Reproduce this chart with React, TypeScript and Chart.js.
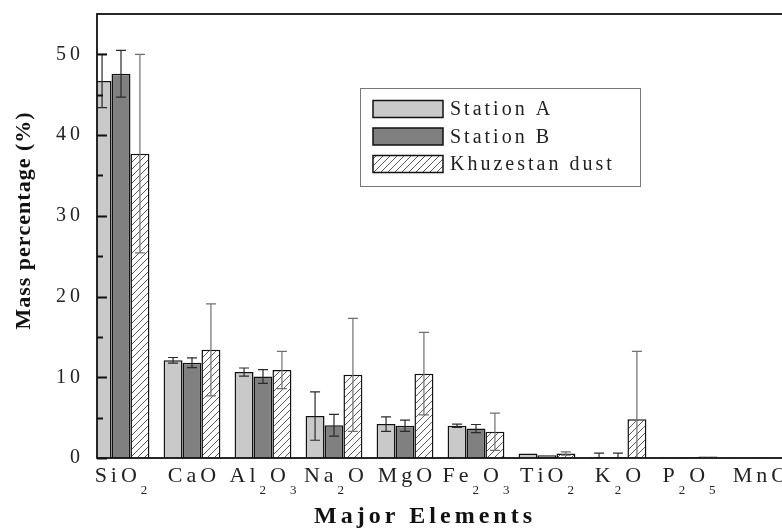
import React, { useEffect, useRef } from "react";
import { Chart, registerables } from "chart.js";

Chart.register(...registerables);

// ---------- data ----------
const categories = ["SiO2", "CaO", "Al2O3", "Na2O", "MgO", "Fe2O3", "TiO2", "K2O", "P2O5", "MnO"];
const seriesNames = ["Station A", "Station B", "Khuzestan dust"];

const stationA = [46.7, 12.1, 10.65, 5.2, 4.2, 4.0, 0.55, 0.1, 0.1, 0.05];
const stationAErr = [3.3, 0.35, 0.5, 3.0, 0.9, 0.2, 0, 0.5, 0, 0];
const stationB = [47.6, 11.8, 10.1, 4.05, 4.0, 3.65, 0.35, 0.1, 0.1, 0.05];
const stationBErr = [2.9, 0.6, 0.85, 1.35, 0.7, 0.5, 0, 0.5, 0, 0];
const dust = [37.7, 13.4, 10.9, 10.3, 10.45, 3.25, 0.55, 4.8, 0.2, 0.05];
const dustErr = [12.3, 5.7, 2.3, 7.0, 5.1, 2.3, 0.2, 8.4, 0, 0];

const yMajorTicks = [0, 10, 20, 30, 40, 50];
const yMinorTicks = [5, 15, 25, 35, 45];
const yTitle = "Mass percentage (%)";
const xTitle = "Major Elements";

const SERIF = '"Liberation Serif", "Times New Roman", serif';

function makeHatch(): CanvasPattern {
  const c = document.createElement("canvas");
  const s = 7;
  c.width = s;
  c.height = s;
  const g = c.getContext("2d")!;
  g.fillStyle = "#ffffff";
  g.fillRect(0, 0, s, s);
  g.strokeStyle = "#5a5a5a";
  g.lineWidth = 1;
  g.beginPath();
  g.moveTo(0, s);
  g.lineTo(s, 0);
  g.moveTo(-1, 1);
  g.lineTo(1, -1);
  g.moveTo(s - 1, s + 1);
  g.lineTo(s + 1, s - 1);
  g.stroke();
  return g.createPattern(c, "repeat")!;
}

function spacedWidth(ctx: CanvasRenderingContext2D, text: string, sp: number) {
  let w = 0;
  for (const ch of text) w += ctx.measureText(ch).width;
  return w + sp * (text.length - 1);
}

function drawSpaced(
  ctx: CanvasRenderingContext2D,
  text: string,
  x: number,
  y: number,
  sp: number,
  align: "left" | "center" | "right"
) {
  const w = spacedWidth(ctx, text, sp);
  let cx = align === "center" ? x - w / 2 : align === "right" ? x - w : x;
  ctx.textAlign = "left";
  for (const ch of text) {
    ctx.fillText(ch, cx, y);
    cx += ctx.measureText(ch).width + sp;
  }
}

export default function App() {
  const ref = useRef<HTMLCanvasElement | null>(null);

  useEffect(() => {
    const canvas = ref.current;
    if (!canvas) return;
    const hatch = makeHatch();
    const fills: (string | CanvasPattern)[] = ["#c9c9c9", "#808080", hatch];
    const errs = [stationAErr, stationBErr, dustErr];
    const errColors = ["#2a2a2a", "#2a2a2a", "#707070"];
    const values = [stationA, stationB, dust];

    const decor = {
      id: "decor",
      afterDatasetsDraw(chart: any) {
        const ctx: CanvasRenderingContext2D = chart.ctx;
        const area = chart.chartArea;
        const ys = chart.scales.y;
        ctx.save();
        ctx.beginPath();
        ctx.rect(area.left, area.top, area.right - area.left, area.bottom - area.top);
        ctx.clip();
        values.forEach((vals, di) => {
          const meta = chart.getDatasetMeta(di);
          ctx.strokeStyle = errColors[di];
          ctx.lineWidth = 1.2;
          meta.data.forEach((el: any, j: number) => {
            const e = errs[di][j];
            if (!e) return;
            const v = vals[j];
            const x = el.x;
            const yt = ys.getPixelForValue(v + e);
            const yb = ys.getPixelForValue(Math.max(v - e, 0));
            const cap = 5;
            ctx.beginPath();
            ctx.moveTo(x, yt);
            ctx.lineTo(x, yb);
            ctx.moveTo(x - cap, yt);
            ctx.lineTo(x + cap, yt);
            ctx.moveTo(x - cap, yb);
            ctx.lineTo(x + cap, yb);
            ctx.stroke();
          });
        });
        ctx.restore();
      },
      afterDraw(chart: any) {
        const ctx: CanvasRenderingContext2D = chart.ctx;
        const area = chart.chartArea;
        const ys = chart.scales.y;
        const xs = chart.scales.x;
        ctx.save();
        // frame
        ctx.strokeStyle = "#111";
        ctx.lineWidth = 1.8;
        ctx.strokeRect(area.left, area.top, area.right - area.left, area.bottom - area.top);
        // y ticks (inward)
        ctx.lineWidth = 2.2;
        ctx.beginPath();
        yMajorTicks.forEach((t) => {
          const y = Math.round(ys.getPixelForValue(t)) + 0.5;
          ctx.moveTo(area.left, y);
          ctx.lineTo(area.left + 10, y);
        });
        yMinorTicks.forEach((t) => {
          const y = Math.round(ys.getPixelForValue(t)) + 0.5;
          ctx.moveTo(area.left, y);
          ctx.lineTo(area.left + 6, y);
        });
        ctx.stroke();
        // y labels
        ctx.fillStyle = "#222";
        ctx.font = `20px ${SERIF}`;
        ctx.textBaseline = "middle";
        yMajorTicks.forEach((t) => {
          drawSpaced(ctx, String(t), area.left - 17, ys.getPixelForValue(t), 4, "right");
        });
        // y title
        ctx.save();
        ctx.translate(24, 221);
        ctx.rotate(-Math.PI / 2);
        ctx.font = `bold 22px ${SERIF}`;
        ctx.fillStyle = "#111";
        ctx.textBaseline = "middle";
        drawSpaced(ctx, yTitle, 0, 0, 1, "center");
        ctx.restore();
        // x labels with subscripts
        ctx.fillStyle = "#222";
        ctx.textBaseline = "alphabetic";
        const mainFont = `22px ${SERIF}`;
        const subFont = `13px ${SERIF}`;
        categories.forEach((cat, i) => {
          const chars = Array.from(cat);
          let total = 0;
          chars.forEach((ch, k) => {
            const sub = /\d/.test(ch);
            ctx.font = sub ? subFont : mainFont;
            total += ctx.measureText(ch).width + (k < chars.length - 1 ? 4 : 0);
          });
          let cx = xs.getPixelForValue(i) - total / 2;
          chars.forEach((ch) => {
            const sub = /\d/.test(ch);
            ctx.font = sub ? subFont : mainFont;
            ctx.textAlign = "left";
            ctx.fillText(ch, cx, sub ? 494 : 482);
            cx += ctx.measureText(ch).width + 4;
          });
        });
        // x title
        ctx.font = `bold 24px ${SERIF}`;
        ctx.fillStyle = "#111";
        drawSpaced(ctx, xTitle, 423, 523, 4, "center");
        // legend
        ctx.strokeStyle = "#777";
        ctx.lineWidth = 1;
        ctx.fillStyle = "#fff";
        ctx.fillRect(360.5, 88.5, 280, 98);
        ctx.strokeRect(360.5, 88.5, 280, 98);
        const rows = [109, 136.5, 164];
        seriesNames.forEach((name, k) => {
          const cy = rows[k];
          ctx.fillStyle = fills[k] as any;
          ctx.fillRect(373, cy - 8.5, 70, 17);
          ctx.strokeStyle = "#111";
          ctx.lineWidth = 1.5;
          ctx.strokeRect(373, cy - 8.5, 70, 17);
          ctx.fillStyle = "#222";
          ctx.font = `20px ${SERIF}`;
          ctx.textBaseline = "middle";
          drawSpaced(ctx, name, 450, cy + 1, 3, "left");
        });
        ctx.restore();
      },
    };

    const xMin = -0.338;
    const xMax = 9.606;

    const chart = new Chart(canvas, {
      type: "bar",
      data: {
        datasets: values.map((vals, di) => ({
          label: seriesNames[di],
          data: vals.map((v, i) => ({ x: i, y: v })),
          backgroundColor: fills[di] as any,
          borderColor: "#111",
          borderWidth: 1.5,
          clip: 0,
          categoryPercentage: 0.8,
          barPercentage: 1.0,
        })),
      },
      options: {
        responsive: false,
        animation: false,
        events: [],
        layout: { padding: { left: 97, top: 14, right: 27, bottom: 71 } },
        scales: {
          x: { type: "linear", min: xMin, max: xMax, offset: false, display: false },
          y: { type: "linear", min: 0, max: 55, display: false },
        },
        plugins: {
          legend: { display: false },
          tooltip: { enabled: false },
          title: { display: false },
        },
      } as any,
      plugins: [decor],
    });
    return () => chart.destroy();
  }, []);

  return (
    <div
      style={{
        position: "fixed",
        left: 0,
        top: 0,
        width: 782,
        height: 529,
        overflow: "hidden",
        background: "#fff",
      }}
    >
      <canvas ref={ref} width={830} height={529} style={{ display: "block" }} />
    </div>
  );
}
